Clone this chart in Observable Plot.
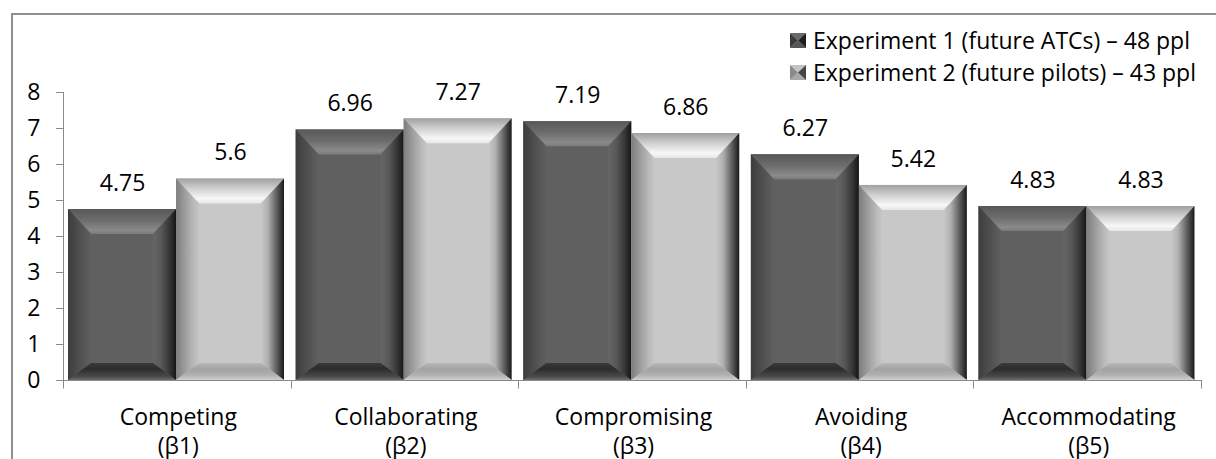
<!DOCTYPE html>
<html>
<head>
<meta charset="utf-8">
<script src="https://cdn.jsdelivr.net/npm/d3@7"></script>
<script src="https://cdn.jsdelivr.net/npm/@observablehq/plot@0.6"></script>
<style>
  html, body { margin: 0; padding: 0; background: #fff; overflow: hidden; }
  #chart { position: relative; width: 1216px; height: 459px; font-family: "Open Sans", sans-serif; }
  #chart > svg { position: absolute; left: 0; top: 0; }
  #border { position: absolute; left: 11px; top: 13px; width: 1216px; height: 459px;
            border: 2px solid #8f8f8f; box-sizing: border-box; pointer-events: none; }
  #legend { position: absolute; left: 790px; top: 24px; font-size: 23px; color: #000; }
  .item { display: flex; align-items: center; height: 32px; white-space: nowrap; }
  .item svg { margin-right: 7px; flex: none; }
</style>
</head>
<body>
<div id="chart"><div id="border"></div><div id="legend"></div></div>
<script>
// Conflict-handling style scores per experiment group
const categories = ["Competing\n(β1)", "Collaborating\n(β2)", "Compromising\n(β3)", "Avoiding\n(β4)", "Accommodating\n(β5)"];
const seriesNames = ["Experiment 1 (future ATCs) – 48 ppl", "Experiment 2 (future pilots) – 43 ppl"];
const experiment1 = [4.75, 6.96, 7.19, 6.27, 4.83];
const experiment2 = [5.6, 7.27, 6.86, 5.42, 4.83];
const yTicks = [0, 1, 2, 3, 4, 5, 6, 7, 8];
const seriesColors = ["#606060", "#c8c8c8"];
const axisGray = "#8a8a8a";

const rows = categories.flatMap((c, i) => [
  {category: c, series: seriesNames[0], value: experiment1[i]},
  {category: c, series: seriesNames[1], value: experiment2[i]}
]);

const plot = Plot.plot({
  width: 1216,
  height: 459,
  marginLeft: 64,
  marginRight: 14,
  marginTop: 92,
  marginBottom: 79,
  style: {fontFamily: "'Open Sans', sans-serif", fontSize: "23px", color: "#000", background: "transparent", overflow: "visible"},
  fx: {domain: categories, padding: 0, label: null, round: false},
  x: {domain: seriesNames, paddingInner: 0, paddingOuter: 0.054, align: 0.35, axis: null, round: false},
  y: {domain: [0, 8], label: null},
  color: {domain: seriesNames, range: seriesColors},
  marks: [
    Plot.barY(rows, {fx: "category", x: "series", y: "value", fill: "series"}),
    Plot.ruleY([0], {stroke: axisGray}),
    Plot.text(rows, {fx: "category", x: "series", y: "value", text: d => String(d.value), dy: -26, fill: "#000"}),
    Plot.axisY(yTicks, {tickSize: 8, tickPadding: 16, stroke: axisGray, color: "#000", label: null}),
    Plot.axisFx({anchor: "bottom", tickSize: 0, tickPadding: 24, lineHeight: 1.27, label: null, color: "#000"})
  ]
});

// Bevel shading for each bar: gradients per edge and per series
const svg = d3.select(plot);
const defs = svg.insert("defs", ":first-child");
const bevels = [
  {
    top: [[0, "#585858"], [0.45, "#6c6c6c"], [0.85, "#8a8a8a"], [1, "#7a7a7a"]],
    left: [[0, "#3c3c3c"], [0.3, "#484848"], [0.7, "#565656"], [1, "#606060"]],
    right: [[0, "#666666"], [0.35, "#585858"], [0.75, "#333333"], [1, "#151515"]],
    bottom: [[0, "#3a3a3a"], [0.35, "#2c2c2c"], [0.8, "#4a4a4a"], [1, "#6a6a6a"]]
  },
  {
    top: [[0, "#a0a0a0"], [0.4, "#cfcfcf"], [0.8, "#f7f7f7"], [1, "#e6e6e6"]],
    left: [[0, "#7d7d7d"], [0.35, "#9a9a9a"], [0.75, "#b8b8b8"], [1, "#c6c6c6"]],
    right: [[0, "#c8c8c8"], [0.3, "#b0b0b0"], [0.7, "#5a5a5a"], [1, "#1a1a1a"]],
    bottom: [[0, "#b8b8b8"], [0.35, "#a2a2a2"], [0.7, "#b0b0b0"], [1, "#cfcfcf"]]
  }
];
bevels.forEach((spec, s) => {
  for (const side of ["top", "left", "right", "bottom"]) {
    const horizontal = side === "left" || side === "right";
    const g = defs.append("linearGradient")
      .attr("id", `bevel-${s}-${side}`)
      .attr("x1", 0).attr("y1", 0)
      .attr("x2", horizontal ? 1 : 0).attr("y2", horizontal ? 0 : 1);
    for (const [o, c] of spec[side]) g.append("stop").attr("offset", o).attr("stop-color", c);
  }
});

svg.selectAll('g[aria-label="bar"] rect').each(function () {
  const r = d3.select(this);
  const x0 = +r.attr("x"), y0 = +r.attr("y");
  const w = +r.attr("width"), h = +r.attr("height");
  const x1 = x0 + w, y1 = y0 + h;
  const s = r.attr("fill") === seriesColors[0] ? 0 : 1;
  const l = Math.min(23, w / 2), rr = Math.min(23, w / 2);
  const t = Math.min(25, h / 2), b = Math.min(17, h / 2);
  const shapes = {
    top: [[x0, y0], [x1, y0], [x1 - rr, y0 + t], [x0 + l, y0 + t]],
    left: [[x0, y0], [x0 + l, y0 + t], [x0 + l, y1 - b], [x0, y1]],
    right: [[x1 - rr, y0 + t], [x1, y0], [x1, y1], [x1 - rr, y1 - b]],
    bottom: [[x0 + l, y1 - b], [x1 - rr, y1 - b], [x1, y1], [x0, y1]]
  };
  const parent = d3.select(this.parentNode);
  for (const side of ["top", "left", "right", "bottom"]) {
    parent.append("polygon")
      .attr("points", shapes[side].map(p => p.join(",")).join(" "))
      .attr("fill", `url(#bevel-${s}-${side})`);
  }
});

// Y axis line and category boundary ticks on the x axis
const fx = plot.scale("fx");
const y = plot.scale("y");
const yZero = y.apply(0), yTop = y.apply(8);
const left = fx.range[0], right = fx.range[1];
const step = (right - left) / categories.length;
const guides = svg.append("g").attr("stroke", axisGray).attr("fill", "none");
guides.append("line")
  .attr("x1", left - 0.5).attr("x2", left - 0.5)
  .attr("y1", yTop + 0.5).attr("y2", yZero + 0.5);
d3.range(categories.length + 1).forEach(i => {
  const xb = Math.round(left + i * step) - 0.5;
  guides.append("line").attr("x1", xb).attr("x2", xb).attr("y1", yZero + 0.5).attr("y2", yZero + 8.5);
});

document.getElementById("chart").appendChild(plot);

// Legend with bevelled swatches
const swatchColors = [
  {left: "#3a3a3a", right: "#1e1e1e", top: "#6a6a6a", bottom: "#555555"},
  {left: "#8a8a8a", right: "#444444", top: "#c4c4c4", bottom: "#a8a8a8"}
];
const legend = d3.select("#legend");
seriesNames.forEach((name, i) => {
  const item = legend.append("div").attr("class", "item");
  const sw = item.append("svg").attr("width", 16).attr("height", 15);
  const c = swatchColors[i];
  sw.append("polygon").attr("points", "0,0 16,0 8,7.5").attr("fill", c.top);
  sw.append("polygon").attr("points", "0,15 16,15 8,7.5").attr("fill", c.bottom);
  sw.append("polygon").attr("points", "0,0 8,7.5 0,15").attr("fill", c.left);
  sw.append("polygon").attr("points", "16,0 8,7.5 16,15").attr("fill", c.right);
  item.append("span").text(name);
});
</script>
</body>
</html>
